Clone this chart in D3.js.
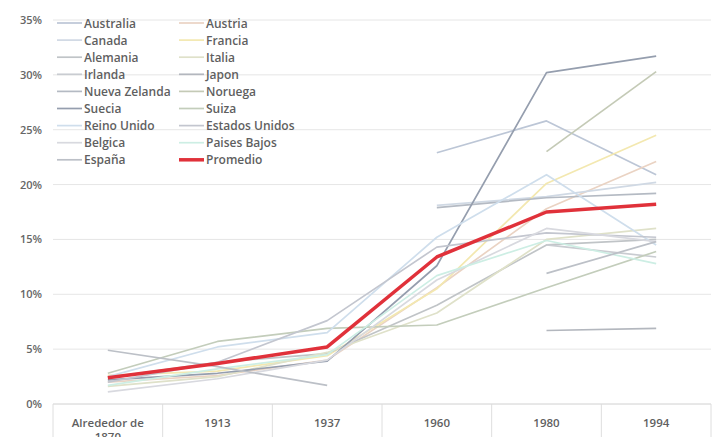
<!DOCTYPE html>
<html><head><meta charset="utf-8">
<script src="https://cdn.jsdelivr.net/npm/d3@7"></script>
<style>body{margin:0;background:#fff}svg{display:block}</style>
</head><body><svg id="c" width="716" height="437"></svg>
<script>
const categories = ["Alrededor de 1870","1913","1937","1960","1980","1994"];
const yTicks = [0,5,10,15,20,25,30,35];
const seriesNames = ["Australia","Austria","Canada","Francia","Alemania","Italia","Irlanda","Japon","Nueva Zelanda","Noruega","Suecia","Suiza","Reino Unido","Estados Unidos","Belgica","Paises Bajos","España","Promedio"];
const australia    = [null,null,null,22.9,25.8,20.9];
const austria      = [2.0,2.6,4.0,10.6,17.8,22.1];
const canada       = [null,null,null,18.1,18.9,20.2];
const francia      = [2.6,3.0,4.4,10.5,20.1,24.5];
const alemania     = [2.4,3.8,4.6,9.0,14.5,15.0];
const italia       = [1.6,2.5,4.7,8.3,15.0,16.0];
const irlanda      = [null,null,null,null,14.5,13.4];
const japon        = [null,null,null,null,6.7,6.9];
const nuevaZelanda = [null,null,null,17.9,18.8,19.2];
const noruega      = [null,null,null,null,23.0,30.3];
const suecia       = [2.2,2.8,3.9,12.6,30.2,31.7];
const suiza        = [2.8,5.7,6.9,7.2,10.6,13.9];
const reinoUnido   = [2.5,5.2,6.5,15.2,20.9,14.5];
const estadosUnidos= [2.0,3.8,7.6,14.3,15.6,15.2];
const belgica      = [1.1,2.3,4.0,11.3,16.0,14.8];
const paisesBajos  = [1.7,3.2,4.5,11.7,14.9,12.8];
const espana       = [4.9,3.4,1.7,null,11.9,14.8];
const promedio     = [2.4,3.7,5.2,13.4,17.5,18.2];

const data = [australia,austria,canada,francia,alemania,italia,irlanda,japon,nuevaZelanda,noruega,suecia,suiza,reinoUnido,estadosUnidos,belgica,paisesBajos,espana,promedio];
const colors = ["#bcc6d6","#ead3c3","#d0d9e4","#f3e8b0","#c0c4c7","#dfe1c9","#c9ccd1","#b3b7be","#b4bac3","#c4cab6","#959eae","#c3cdbb","#cfdeec","#c3c6cf","#d8d9df","#cdeee4","#bcc0c7","#e0313a"];

const svg = d3.select("#c");
const L = 53, R = 711, T = 20, B = 404;
const x = d3.scaleBand().domain(categories).range([L,R]).padding(0);
const y = d3.scaleLinear().domain([0,35]).range([B,T]);
const FONT = "Open Sans, sans-serif";

svg.append("g").selectAll("line").data(yTicks).join("line")
  .attr("x1",L).attr("x2",R).attr("y1",d=>y(d)).attr("y2",d=>y(d))
  .attr("stroke","#e6e6e6").attr("stroke-width",1);

svg.append("g").selectAll("text").data(yTicks).join("text")
  .attr("x",42).attr("y",d=>y(d)+4).attr("text-anchor","end")
  .attr("font-family",FONT).attr("font-size",11).attr("font-weight",600).attr("fill","#666")
  .text(d=>d+"%");

const bounds = categories.map(c=>x(c)).concat([R]);
svg.append("g").selectAll("line").data(bounds).join("line")
  .attr("x1",d=>d).attr("x2",d=>d).attr("y1",B).attr("y2",437)
  .attr("stroke","#dedede").attr("stroke-width",1);
svg.append("line").attr("x1",L).attr("x2",R).attr("y1",B).attr("y2",B).attr("stroke","#dcdcdc");

const xl = svg.append("g").selectAll("text").data(categories).join("text")
  .attr("x",d=>x(d)+x.bandwidth()/2).attr("y",427).attr("text-anchor","middle")
  .attr("font-family",FONT).attr("font-size",11.5).attr("font-weight",600).attr("fill","#5f5f5f");
xl.each(function(d){
  const t = d3.select(this);
  if (d.startsWith("Alrededor")) {
    t.append("tspan").attr("x",x(d)+x.bandwidth()/2).attr("dy",0).text("Alrededor de");
    t.append("tspan").attr("x",x(d)+x.bandwidth()/2).attr("dy",14).text("1870");
  } else t.text(d);
});

const line = d3.line().defined(d=>d.v!=null)
  .x(d=>x(d.c)+x.bandwidth()/2).y(d=>y(d.v));
data.forEach((arr,i)=>{
  const pts = arr.map((v,j)=>({c:categories[j],v}));
  svg.append("path").attr("d",line(pts)).attr("fill","none")
    .attr("stroke",colors[i]).attr("stroke-width",i===17?3.5:1.7)
    .attr("stroke-linejoin","round");
});

const lg = svg.append("g");
seriesNames.forEach((n,i)=>{
  const col = i%2, row = Math.floor(i/2);
  const sx = col===0?57:179, sy = 23 + row*17.1;
  lg.append("line").attr("x1",sx).attr("x2",sx+25).attr("y1",sy).attr("y2",sy)
    .attr("stroke",colors[i]).attr("stroke-width",i===17?3.5:1.7);
  lg.append("text").attr("x",sx+27).attr("y",sy+4.5)
    .attr("font-family",FONT).attr("font-size",12).attr("font-weight",600).attr("fill","#5f5f5f")
    .text(n);
});
</script></body></html>
